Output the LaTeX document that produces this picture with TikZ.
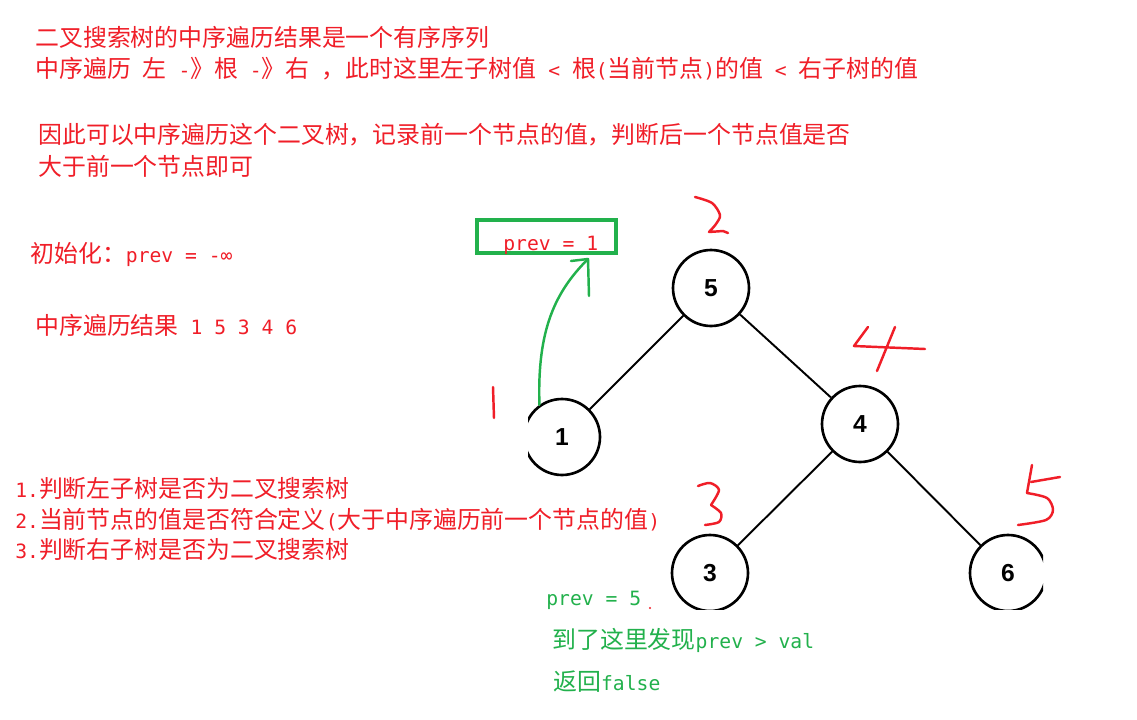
\documentclass[tikz,border=0pt]{standalone}
\usepackage{fontspec}
\setmainfont{Noto Sans CJK SC}
\newfontfamily\codefont{DejaVu Sans Mono}
\newfontfamily\numfont{Liberation Sans}
\usetikzlibrary{positioning}
\definecolor{notered}{RGB}{240,30,40}
\definecolor{pengreen}{RGB}{34,177,76}
\newcommand\codetext[1]{{\codefont\fontsize{11.2}{13}\selectfont #1}}

\begin{document}
\begin{tikzpicture}[
    x=0.02cm, y=-0.02cm,
    treenode/.style={circle, draw, line width=1.5pt, minimum size=1.52cm, inner sep=0pt, font=\numfont\bfseries\fontsize{14}{14}\selectfont},
    edge/.style={draw, line width=1.1pt},
    note/.style={anchor=base west, inner sep=0pt, text=notered, font=\fontsize{13.6}{16}\selectfont},
    greennote/.style={note, text=pengreen},
    code/.style={font=\codefont\fontsize{11.2}{13}\selectfont},
    pen/.style={draw=notered, line width=1.4pt, line cap=round, line join=round},
    greenpen/.style={draw=pengreen, line width=1.4pt, line cap=round, line join=round},
    prevbox/.style={draw=pengreen, line width=2pt, minimum width=2.78cm, minimum height=0.66cm, inner sep=0pt}
]
    \fill[white] (0,0) rectangle (1137,720);
    \useasboundingbox (0,0) rectangle (1137,720);

    % notes on the left
    \node[note] (t1) at (35,47) {二叉搜索树的中序遍历结果是一个有序序列};
    \node[note] (t2) at (35,77) {中序遍历\codetext{~}左\codetext{~-}》根\codetext{~-}》右\codetext{~}，此时这里左子树值\codetext{~<~}根\codetext{(}当前节点\codetext{)}的值\codetext{~<~}右子树的值};
    \node[note] (t3) at (38,143) {因此可以中序遍历这个二叉树，记录前一个节点的值，判断后一个节点值是否};
    \node[note] (t4) at (38,175) {大于前一个节点即可};
    \node[note] (init) at (30,262) {初始化：\codetext{prev = -∞}};
    \node[note] (order) at (35,334) {中序遍历结果\codetext{~1 5 3 4 6}};
    \node[note] (s1) at (15,497) {\codetext{1.}判断左子树是否为二叉搜索树};
    \node[note] (s2) at (15,528) {\codetext{2.}当前节点的值是否符合定义\codetext{(}大于中序遍历前一个节点的值\codetext{)}};
    \node[note] (s3) at (15,558) {\codetext{3.}判断右子树是否为二叉搜索树};

    % tree
    \begin{scope}
        \clip (528,240) rectangle (1043,609);
        \node[treenode] (n5) at (711,288) {5};
        \node[treenode] (n1) at (562,437) {1};
        \node[treenode] (n4) at (860,424) {4};
        \node[treenode] (n3) at (710,573) {3};
        \node[treenode] (n6) at (1008,573) {6};
    \end{scope}
    \draw[edge] (n5) -- (n1);
    \draw[edge] (n5) -- (n4);
    \draw[edge] (n4) -- (n3);
    \draw[edge] (n4) -- (n6);

    % prev box and arrow
    \node[prevbox] (box) at (546.5,236.5) {};
    \node[note, code] (prev1) at (503,250) {prev = 1};
    \coordinate (tip) at (588,259);
    \draw[greenpen] (n1.125) .. controls (537,330) and (555,292) .. (tip);
    \draw[greenpen] (tip) -- (571,261);
    \draw[greenpen] (tip) -- (589,296);

    % visiting order
    \draw[pen] (493,387) -- (494,418);
    \draw[pen] plot[smooth] coordinates {(695,197) (712,203) (720,215) (716,224) (709,232)} -- (723,231) -- (728,233);
    \draw[pen] (868,327) -- (854,346) -- (925,349);
    \draw[pen] (895,327) -- (877,371);
    \draw[pen] plot[smooth] coordinates {(698,486) (710,483) (719,490) (711,505)};
    \draw[pen] plot[smooth] coordinates {(711,505) (721,513) (719,522) (705,525)};
    \draw[pen] (1032,465) -- (1027,493);
    \draw[pen] (1031,482) -- (1060,477);
    \draw[pen] plot[smooth] coordinates {(1027,493) (1047,498) (1053,510) (1046,520) (1018,525)};

    % result
    \node[greennote, code] (prev5) at (546,605) {prev = 5};
    \fill[notered] (650,608) circle (1.2);
    \node[greennote] (found) at (552,648) {到了这里发现\codetext{prev > val}};
    \node[greennote] (ret) at (553,690) {返回\codetext{false}};
\end{tikzpicture}
\end{document}
